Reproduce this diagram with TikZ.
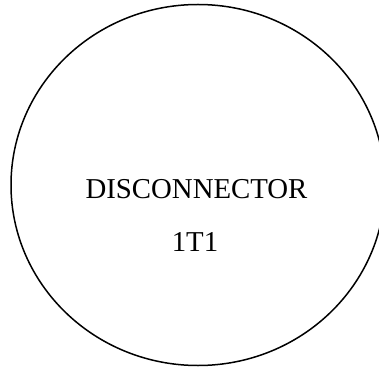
\documentclass[tikz,border=0pt]{standalone}
\usepackage{fontspec}
\setmainfont{Liberation Serif}
\usetikzlibrary{shapes.geometric}
\begin{document}
\begin{tikzpicture}[x=1pt,y=1pt,
  outline/.style={draw=black, line width=1.5pt, ellipse, inner sep=0pt, minimum width=374pt, minimum height=361pt},
  label/.style={anchor=base, font=\fontsize{28.8}{30}\selectfont, inner sep=0pt}]
\useasboundingbox (0,0) rectangle (379,367);
\node[outline] (c) at (198,182) {};
\node[label] (t1) at (196.5,168.7) {DISCONNECTOR};
\node[label] (t2) at (195,115.3) {1T1};
\end{tikzpicture}
\end{document}
